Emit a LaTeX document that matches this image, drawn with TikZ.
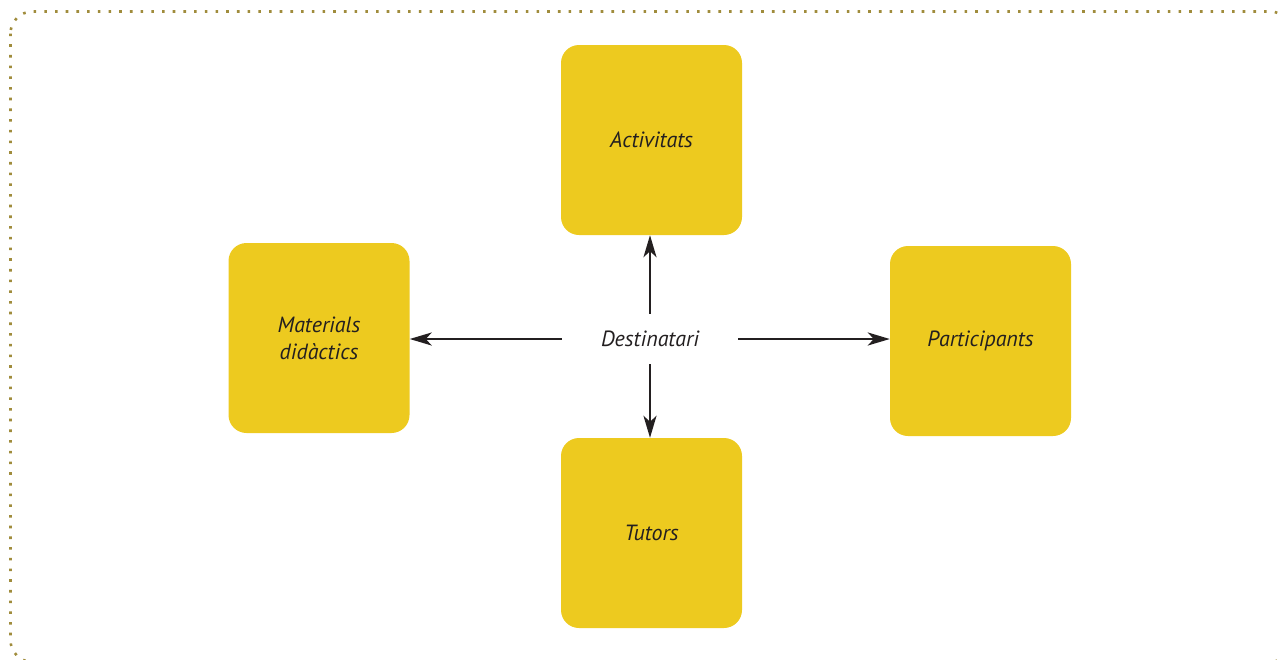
\documentclass[tikz,border=0pt]{standalone}
\usepackage{fontspec}
\setmainfont{PT Sans}
\usepackage{xcolor}
\usetikzlibrary{positioning,calc,arrows.meta}
\definecolor{boxyellow}{HTML}{EDCA1F}
\definecolor{framegold}{HTML}{A08C3C}
\definecolor{inkdark}{HTML}{231F20}

\begin{document}
\begin{tikzpicture}[x=1pt, y=-1pt,
    topic/.style={fill=boxyellow, rounded corners=18pt, minimum width=181pt, minimum height=190pt,
        text=inkdark, font=\fontsize{22}{27}\selectfont\itshape, align=center, inner sep=0pt},
    link/.style={-{Stealth[length=22pt, width=13pt, inset=6pt]}, line width=2.6pt, draw=inkdark}]
    \clip (0,0) rectangle (1279,659);

    % Frame
    \draw[framegold, line width=2.6pt, dash pattern=on 2.6pt off 8.1pt, rounded corners=22pt]
        (10.5,11.5) rectangle (1292,662);

    % Boxes
    \node[topic] (act) at (651.5,140) {Activitats};
    \node[topic] (mat) at (319,338) {Materials\\didàctics};
    \node[topic] (part) at (980.5,341) {Participants};
    \node[topic] (tut) at (651.5,533) {Tutors};

    % Centre
    \node[text=inkdark, font=\fontsize{22}{27}\selectfont\itshape, minimum width=176pt, minimum height=50pt, inner sep=0pt]
        (dest) at (650,339) {Destinatari};

    % Arrows
    \draw[link] (dest.north) -- (dest.north |- act.south);
    \draw[link] (dest.south) -- (dest.south |- tut.north);
    \draw[link] (dest.west) -- (dest.west -| mat.east);
    \draw[link] (dest.east) -- (dest.east -| part.west);
\end{tikzpicture}
\end{document}
